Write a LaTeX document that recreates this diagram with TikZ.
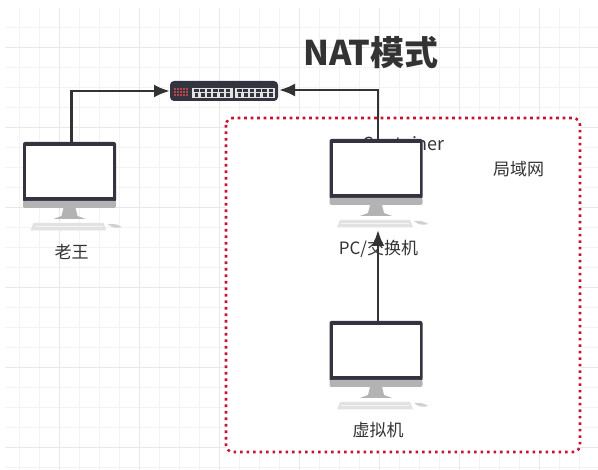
\documentclass[tikz,border=0pt]{standalone}
\usepackage{fontspec}
\setmainfont{Noto Sans CJK SC}
\usetikzlibrary{arrows.meta}
\definecolor{linkgray}{HTML}{333333}
\definecolor{monitordark}{HTML}{343440}
\definecolor{standgray}{HTML}{B3B3B3}
\definecolor{keygray}{HTML}{E2E2E2}
\definecolor{boxred}{HTML}{C41235}
\definecolor{gridminor}{HTML}{F3F3F3}
\definecolor{gridmajor}{HTML}{E8E8E8}
\tikzset{
  link/.style={draw=linkgray, line width=2.8pt, -{Latex[length=16pt,width=13pt]}},
  label/.style={text=linkgray, font=\fontsize{17}{20}\selectfont, inner sep=0pt},
  desktop/.pic={
    \fill[monitordark, rounded corners=2pt] (-46.5,0) rectangle (46.5,60);
    \fill[white] (-43.5,4) rectangle (43.5,55);
    \fill[standgray, rounded corners=2pt] (-46.5,59) rectangle (46.5,66);
    \fill[standgray] (-6,66) -- (6,66) -- (8,74) -- (16,77) -- (-16,77) -- (-8,74) -- cycle;
    \fill[keygray] (-36,81) -- (34,81) -- (37,88.5) -- (-39,88.5) -- cycle;
    \draw[white!60!keygray, line width=0.4pt] (-35,84.5) -- (33,84.5);
    \fill[standgray!60] (38,82) .. controls (44,81) and (50,83) .. (52,85) .. controls (48,86.5) and (42,86) .. (38,82);
    \coordinate (-top) at (2,0);
    \coordinate (-bottom) at (2,91);
  }
}
\begin{document}
\begin{tikzpicture}[x=1pt,y=-1pt]
\useasboundingbox (0,0) rectangle (598,470);
\fill[white] (0,0) rectangle (598,470);
% grid
\foreach \k in {0,...,28} \draw[gridminor, line width=0.8pt] ({19+20*\k},8) -- ({19+20*\k},470);
\foreach \k in {0,...,22} \draw[gridminor, line width=0.8pt] (5,{27+20*\k}) -- (598,{27+20*\k});
\foreach \k in {0,...,6} \draw[gridmajor, line width=0.8pt] ({59+80*\k},8) -- ({59+80*\k},470);
\foreach \k in {0,...,5} \draw[gridmajor, line width=0.8pt] (5,{47+80*\k}) -- (598,{47+80*\k});

\node[font=\fontsize{34}{38}\selectfont\bfseries, text=linkgray, inner sep=0pt] (title) at (371,53) {NAT模式};

% local network
\draw[boxred, fill=white, line width=2.6pt, dash pattern=on 2.6pt off 3.9pt, rounded corners=7pt] (226,118) rectangle (580,452);
\node[label, font=\fontsize{18}{20}\selectfont] (ct) at (403.5,144) {Container};
\node[label] (lan) at (518.5,169) {局域网};

% switch
\fill[monitordark, rounded corners=4pt] (170,81) rectangle (278,101);
\fill[keygray] (191.7,87.7) rectangle (232.7,97.7);
\fill[keygray] (234.5,87.7) rectangle (275,97.7);
\foreach \px in {0,...,5} {
  \fill[monitordark] ({194+6.3*\px},89) rectangle ++(4.8,3.4);
  \fill[monitordark] ({194.5+6.3*\px},93) rectangle ++(3.8,3.6);
  \fill[monitordark] ({237+6.3*\px},89) rectangle ++(4.8,3.4);
  \fill[monitordark] ({237.5+6.3*\px},93) rectangle ++(3.8,3.6);
}
\foreach \px in {174,177,...,186} \foreach \py in {88,91,94}
  \fill[red!45!gray] (\px,\py) rectangle ++(2,2);
\coordinate (swL) at (170,91);
\coordinate (swR) at (279,90);

\pic (laowang) at (69.5,142) {desktop};
\pic (pc) at (376,139) {desktop};
\pic (vm) at (376,321) {desktop};

\node[label] (wang) at (71.5,252) {老王};
\node[label] (pclabel) at (378.5,249) {PC/交换机};
\node[label] (vmlabel) at (378,430) {虚拟机};

\draw[link] (laowang-top) |- (swL);
\draw[link] (pc-top) |- (swR);
\draw[link] (vm-top) -- (pc-bottom);
\end{tikzpicture}
\end{document}
